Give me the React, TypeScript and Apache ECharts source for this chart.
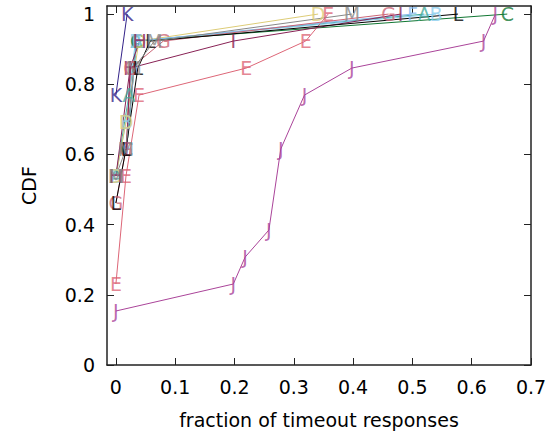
import React, { useEffect, useRef } from "react";
import * as echarts from "echarts";

const N = 13;
const seriesNames = ["A", "B", "C", "D", "E", "F", "H", "G", "I", "J", "K", "L", "M"];
const seriesColors = ["#44AA99", "#88CCEE", "#117733", "#DDCC77", "#DD6677", "#88BBEE", "#882255", "#CC6677", "#882255", "#AA4499", "#332288", "#000000", "#888888"];
// [fraction of timeout responses, rank k] -> CDF = k / 13
const A = [[0, 7], [0.022, 10], [0.035, 12], [0.52, 13]];
const B = [[0, 7], [0.017, 9], [0.033, 12], [0.54, 13]];
const C = [[0.018, 8], [0.035, 12], [0.66, 13]];
const D = [[0, 7], [0.017, 9], [0.039, 12], [0.341, 13]];
const E = [[0, 3], [0.017, 7], [0.039, 10], [0.22, 11], [0.32, 12], [0.358, 13]];
const F = [[0.018, 8], [0.035, 12], [0.5, 13]];
const H = [[0, 7], [0.024, 11], [0.04, 12]];
const G = [[0, 6], [0.017, 8], [0.025, 11], [0.08, 12], [0.46, 13]];
const I = [[0.018, 8], [0.024, 11], [0.198, 12], [0.48, 13]];
const J = [[0, 2], [0.198, 3], [0.218, 4], [0.258, 5], [0.278, 8], [0.318, 10], [0.398, 11], [0.62, 12], [0.64, 13]];
const K = [[0, 10], [0.019, 13]];
const L = [[0, 6], [0.017, 8], [0.037, 11], [0.058, 12], [0.577, 13]];
const M = [[0, 7], [0.017, 8], [0.03, 11], [0.065, 12], [0.398, 13]];
const seriesData = [A, B, C, D, E, F, H, G, I, J, K, L, M];
const xTicks = [0, 0.1, 0.2, 0.3, 0.4, 0.5, 0.6, 0.7];
const yTicks = [0, 0.2, 0.4, 0.6, 0.8, 1];

const FONT = "DejaVu Sans";

export default function App() {
  const ref = useRef<HTMLDivElement>(null);
  useEffect(() => {
    const chart = echarts.init(ref.current!, null, { renderer: "svg" });
    const series: any[] = [];
    seriesData.forEach((d, i) => {
      const pts = d.map(([x, k]) => [x, k / N]);
      series.push({
        type: "line",
        data: pts,
        showSymbol: false,
        symbol: "none",
        lineStyle: { color: seriesColors[i], width: 1 },
        z: 2,
      });
      series.push({
        type: "scatter",
        data: pts,
        symbol: "rect",
        symbolSize: 1,
        itemStyle: { color: "rgba(0,0,0,0)" },
        label: {
          show: true,
          position: "inside",
          formatter: seriesNames[i],
          color: seriesColors[i],
          fontFamily: FONT,
          fontSize: 19,
        },
        z: 3,
      });
    });
    const axisLine = { show: true, lineStyle: { color: "#222", width: 1.5 } };
    const tick = { inside: true, length: 7, lineStyle: { color: "#222", width: 1 } };
    chart.setOption({
      animation: false,
      grid: { left: 107, top: 6, right: 23, bottom: 67 },
      xAxis: [
        {
          type: "value",
          min: -0.015,
          max: 0.7,
          axisLine: { ...axisLine, onZero: false },
          splitLine: { show: false },
          axisTick: { ...tick, customValues: xTicks },
          axisLabel: { customValues: xTicks, color: "#000", fontFamily: FONT, fontSize: 19, margin: 12, formatter: (v: number) => String(v) },
          name: "fraction of timeout responses",
          nameLocation: "middle",
          nameGap: 45,
          nameTextStyle: { color: "#000", fontFamily: FONT, fontSize: 19 },
        },
        {
          type: "value",
          position: "top",
          min: -0.015,
          max: 0.7,
          axisLine: { ...axisLine, onZero: false },
          splitLine: { show: false },
          axisTick: { ...tick, customValues: xTicks },
          axisLabel: { show: false, customValues: xTicks },
        },
      ],
      yAxis: [
        {
          type: "value",
          min: 0,
          max: 1.023,
          axisLine: { ...axisLine, onZero: false },
          splitLine: { show: false },
          axisTick: { ...tick, customValues: yTicks },
          axisLabel: { customValues: yTicks, color: "#000", fontFamily: FONT, fontSize: 19, margin: 12, formatter: (v: number) => String(v) },
          name: "CDF",
          nameLocation: "middle",
          nameGap: 69,
          nameTextStyle: { color: "#000", fontFamily: FONT, fontSize: 19 },
        },
        {
          type: "value",
          position: "right",
          min: 0,
          max: 1.023,
          axisLine: { ...axisLine, onZero: false },
          splitLine: { show: false },
          axisTick: { ...tick, customValues: yTicks },
          axisLabel: { show: false, customValues: yTicks },
        },
      ],
      series,
    });
    return () => chart.dispose();
  }, []);
  return <div ref={ref} style={{ width: 554, height: 434, position: "absolute", left: 0, top: 0 }} />;
}
